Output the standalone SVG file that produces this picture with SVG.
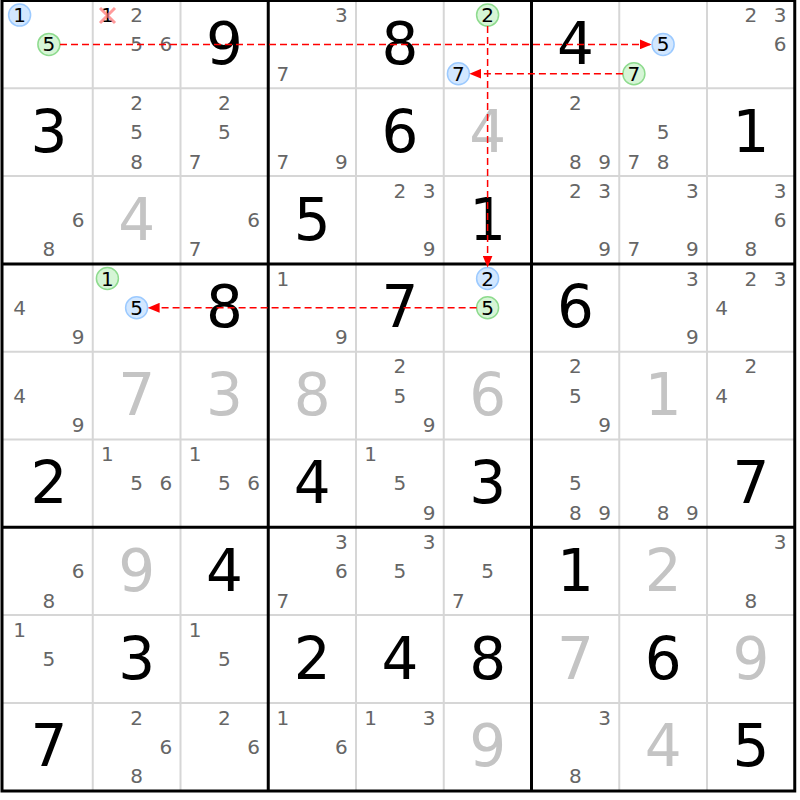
<svg xmlns="http://www.w3.org/2000/svg" width="800" height="800" viewBox="0 0 800 800">
<style>
text{font-family:"DejaVu Sans","Liberation Sans",sans-serif;text-anchor:middle;dominant-baseline:central}
.c{font-size:20px;fill:#666}
.h{font-size:20px;fill:#000}
.g{font-size:58px;fill:#000}
.s{font-size:58px;fill:#c4c4c4}
.thin{stroke:#d6d6d6;stroke-width:2}
.thick{stroke:#000;stroke-width:3}
.cb{fill:#d2e7ff;stroke:#9ccaff;stroke-width:1.5}
.cg{fill:#d6f5d6;stroke:#8edb8e;stroke-width:1.5}
.ln{stroke:#f00;stroke-width:1.5;stroke-dasharray:7,4;fill:none;marker-end:url(#ah)}
</style>
<defs>
<marker id="ah" viewBox="0 0 12 10" refX="12" refY="5" markerWidth="12" markerHeight="10" markerUnits="userSpaceOnUse" orient="auto"><path d="M0,0 L12,5 L0,10 z" fill="#f00"/></marker>
</defs>
<rect width="800" height="800" fill="#fff"/>
<g id="grid">
<path class="thin" d="M92.75,0V791M180.5,0V791M356,0V791M443.75,0V791M619.25,0V791M707,0V791M2,88.3H795M2,176.1H795M2,351.7H795M2,439.5H795M2,615.1H795M2,702.9H795"/>
<path class="thick" d="M268.25,0V791M531.5,0V791M2,263.9H795M2,527.3H795"/>
<rect x="2" y="0.5" width="792.75" height="790.5" fill="none" class="thick"/>
</g>
<g id="r1">
<g id="r1c1"><circle class="cb" cx="19.6" cy="15.1" r="11"/><text class="h" x="19.6" y="15.1">1</text><circle class="cg" cx="48.9" cy="44.4" r="11"/><text class="h" x="48.9" y="44.4">5</text></g>
<g id="r1c2"><text class="h" x="107.4" y="15.1">1</text><path d="M100,8L115,23M115,8L100,23" stroke="#ff7070" stroke-opacity="0.7" stroke-width="3"/><text class="c" x="136.6" y="15.1">2</text><text class="c" x="136.6" y="44.4">5</text><text class="c" x="165.9" y="44.4">6</text></g>
<g id="r1c3"><text class="g" x="224.4" y="44">9</text></g>
<g id="r1c4"><text class="c" x="341.4" y="15.1">3</text><text class="c" x="282.9" y="73.7">7</text></g>
<g id="r1c5"><text class="g" x="399.9" y="44">8</text></g>
<g id="r1c6"><circle class="cg" cx="487.6" cy="15.1" r="11"/><text class="h" x="487.6" y="15.1">2</text><circle class="cb" cx="458.4" cy="73.7" r="11"/><text class="h" x="458.4" y="73.7">7</text></g>
<g id="r1c7"><text class="g" x="575.4" y="44">4</text></g>
<g id="r1c8"><circle class="cb" cx="663.1" cy="44.4" r="11"/><text class="h" x="663.1" y="44.4">5</text><circle class="cg" cx="633.9" cy="73.7" r="11"/><text class="h" x="633.9" y="73.7">7</text></g>
<g id="r1c9"><text class="c" x="750.9" y="15.1">2</text><text class="c" x="780.1" y="15.1">3</text><text class="c" x="780.1" y="44.4">6</text></g>
</g>
<g id="r2">
<g id="r2c1"><text class="g" x="48.9" y="131.8">3</text></g>
<g id="r2c2"><text class="c" x="136.6" y="102.9">2</text><text class="c" x="136.6" y="132.2">5</text><text class="c" x="136.6" y="161.5">8</text></g>
<g id="r2c3"><text class="c" x="224.4" y="102.9">2</text><text class="c" x="224.4" y="132.2">5</text><text class="c" x="195.1" y="161.5">7</text></g>
<g id="r2c4"><text class="c" x="282.9" y="161.5">7</text><text class="c" x="341.4" y="161.5">9</text></g>
<g id="r2c5"><text class="g" x="399.9" y="131.8">6</text></g>
<g id="r2c6"><text class="s" x="487.6" y="131.8">4</text></g>
<g id="r2c7"><text class="c" x="575.4" y="102.9">2</text><text class="c" x="575.4" y="161.5">8</text><text class="c" x="604.6" y="161.5">9</text></g>
<g id="r2c8"><text class="c" x="663.1" y="132.2">5</text><text class="c" x="633.9" y="161.5">7</text><text class="c" x="663.1" y="161.5">8</text></g>
<g id="r2c9"><text class="g" x="750.9" y="131.8">1</text></g>
</g>
<g id="r3">
<g id="r3c1"><text class="c" x="78.1" y="220">6</text><text class="c" x="48.9" y="249.3">8</text></g>
<g id="r3c2"><text class="s" x="136.6" y="219.6">4</text></g>
<g id="r3c3"><text class="c" x="253.6" y="220">6</text><text class="c" x="195.1" y="249.3">7</text></g>
<g id="r3c4"><text class="g" x="312.1" y="219.6">5</text></g>
<g id="r3c5"><text class="c" x="399.9" y="190.7">2</text><text class="c" x="429.1" y="190.7">3</text><text class="c" x="429.1" y="249.3">9</text></g>
<g id="r3c6"><text class="g" x="487.6" y="219.6">1</text></g>
<g id="r3c7"><text class="c" x="575.4" y="190.7">2</text><text class="c" x="604.6" y="190.7">3</text><text class="c" x="604.6" y="249.3">9</text></g>
<g id="r3c8"><text class="c" x="692.4" y="190.7">3</text><text class="c" x="633.9" y="249.3">7</text><text class="c" x="692.4" y="249.3">9</text></g>
<g id="r3c9"><text class="c" x="780.1" y="190.7">3</text><text class="c" x="780.1" y="220">6</text><text class="c" x="750.9" y="249.3">8</text></g>
</g>
<g id="r4">
<g id="r4c1"><text class="c" x="19.6" y="307.8">4</text><text class="c" x="78.1" y="337.1">9</text></g>
<g id="r4c2"><circle class="cg" cx="107.4" cy="278.5" r="11"/><text class="h" x="107.4" y="278.5">1</text><circle class="cb" cx="136.6" cy="307.8" r="11"/><text class="h" x="136.6" y="307.8">5</text></g>
<g id="r4c3"><text class="g" x="224.4" y="307.4">8</text></g>
<g id="r4c4"><text class="c" x="282.9" y="278.5">1</text><text class="c" x="341.4" y="337.1">9</text></g>
<g id="r4c5"><text class="g" x="399.9" y="307.4">7</text></g>
<g id="r4c6"><circle class="cb" cx="487.6" cy="278.5" r="11"/><text class="h" x="487.6" y="278.5">2</text><circle class="cg" cx="487.6" cy="307.8" r="11"/><text class="h" x="487.6" y="307.8">5</text></g>
<g id="r4c7"><text class="g" x="575.4" y="307.4">6</text></g>
<g id="r4c8"><text class="c" x="692.4" y="278.5">3</text><text class="c" x="692.4" y="337.1">9</text></g>
<g id="r4c9"><text class="c" x="750.9" y="278.5">2</text><text class="c" x="780.1" y="278.5">3</text><text class="c" x="721.6" y="307.8">4</text></g>
</g>
<g id="r5">
<g id="r5c1"><text class="c" x="19.6" y="395.6">4</text><text class="c" x="78.1" y="424.9">9</text></g>
<g id="r5c2"><text class="s" x="136.6" y="395.2">7</text></g>
<g id="r5c3"><text class="s" x="224.4" y="395.2">3</text></g>
<g id="r5c4"><text class="s" x="312.1" y="395.2">8</text></g>
<g id="r5c5"><text class="c" x="399.9" y="366.3">2</text><text class="c" x="399.9" y="395.6">5</text><text class="c" x="429.1" y="424.9">9</text></g>
<g id="r5c6"><text class="s" x="487.6" y="395.2">6</text></g>
<g id="r5c7"><text class="c" x="575.4" y="366.3">2</text><text class="c" x="575.4" y="395.6">5</text><text class="c" x="604.6" y="424.9">9</text></g>
<g id="r5c8"><text class="s" x="663.1" y="395.2">1</text></g>
<g id="r5c9"><text class="c" x="750.9" y="366.3">2</text><text class="c" x="721.6" y="395.6">4</text></g>
</g>
<g id="r6">
<g id="r6c1"><text class="g" x="48.9" y="483">2</text></g>
<g id="r6c2"><text class="c" x="107.4" y="454.1">1</text><text class="c" x="136.6" y="483.4">5</text><text class="c" x="165.9" y="483.4">6</text></g>
<g id="r6c3"><text class="c" x="195.1" y="454.1">1</text><text class="c" x="224.4" y="483.4">5</text><text class="c" x="253.6" y="483.4">6</text></g>
<g id="r6c4"><text class="g" x="312.1" y="483">4</text></g>
<g id="r6c5"><text class="c" x="370.6" y="454.1">1</text><text class="c" x="399.9" y="483.4">5</text><text class="c" x="429.1" y="512.7">9</text></g>
<g id="r6c6"><text class="g" x="487.6" y="483">3</text></g>
<g id="r6c7"><text class="c" x="575.4" y="483.4">5</text><text class="c" x="575.4" y="512.7">8</text><text class="c" x="604.6" y="512.7">9</text></g>
<g id="r6c8"><text class="c" x="663.1" y="512.7">8</text><text class="c" x="692.4" y="512.7">9</text></g>
<g id="r6c9"><text class="g" x="750.9" y="483">7</text></g>
</g>
<g id="r7">
<g id="r7c1"><text class="c" x="78.1" y="571.2">6</text><text class="c" x="48.9" y="600.5">8</text></g>
<g id="r7c2"><text class="s" x="136.6" y="570.8">9</text></g>
<g id="r7c3"><text class="g" x="224.4" y="570.8">4</text></g>
<g id="r7c4"><text class="c" x="341.4" y="541.9">3</text><text class="c" x="341.4" y="571.2">6</text><text class="c" x="282.9" y="600.5">7</text></g>
<g id="r7c5"><text class="c" x="429.1" y="541.9">3</text><text class="c" x="399.9" y="571.2">5</text></g>
<g id="r7c6"><text class="c" x="487.6" y="571.2">5</text><text class="c" x="458.4" y="600.5">7</text></g>
<g id="r7c7"><text class="g" x="575.4" y="570.8">1</text></g>
<g id="r7c8"><text class="s" x="663.1" y="570.8">2</text></g>
<g id="r7c9"><text class="c" x="780.1" y="541.9">3</text><text class="c" x="750.9" y="600.5">8</text></g>
</g>
<g id="r8">
<g id="r8c1"><text class="c" x="19.6" y="629.7">1</text><text class="c" x="48.9" y="659">5</text></g>
<g id="r8c2"><text class="g" x="136.6" y="658.6">3</text></g>
<g id="r8c3"><text class="c" x="195.1" y="629.7">1</text><text class="c" x="224.4" y="659">5</text></g>
<g id="r8c4"><text class="g" x="312.1" y="658.6">2</text></g>
<g id="r8c5"><text class="g" x="399.9" y="658.6">4</text></g>
<g id="r8c6"><text class="g" x="487.6" y="658.6">8</text></g>
<g id="r8c7"><text class="s" x="575.4" y="658.6">7</text></g>
<g id="r8c8"><text class="g" x="663.1" y="658.6">6</text></g>
<g id="r8c9"><text class="s" x="750.9" y="658.6">9</text></g>
</g>
<g id="r9">
<g id="r9c1"><text class="g" x="48.9" y="746.4">7</text></g>
<g id="r9c2"><text class="c" x="136.6" y="717.5">2</text><text class="c" x="165.9" y="746.8">6</text><text class="c" x="136.6" y="776.1">8</text></g>
<g id="r9c3"><text class="c" x="224.4" y="717.5">2</text><text class="c" x="253.6" y="746.8">6</text></g>
<g id="r9c4"><text class="c" x="282.9" y="717.5">1</text><text class="c" x="341.4" y="746.8">6</text></g>
<g id="r9c5"><text class="c" x="370.6" y="717.5">1</text><text class="c" x="429.1" y="717.5">3</text></g>
<g id="r9c6"><text class="s" x="487.6" y="746.4">9</text></g>
<g id="r9c7"><text class="c" x="604.6" y="717.5">3</text><text class="c" x="575.4" y="776.1">8</text></g>
<g id="r9c8"><text class="s" x="663.1" y="746.4">4</text></g>
<g id="r9c9"><text class="g" x="750.9" y="746.4">5</text></g>
</g>
<g id="connectors">
<path class="ln" d="M60,44.4H651.6"/>
<path class="ln" d="M622.9,73.7H469.4"/>
<path class="ln" d="M487.6,26.1V267.5"/>
<path class="ln" d="M476.6,307.8H147.6"/>
</g>
</svg>
